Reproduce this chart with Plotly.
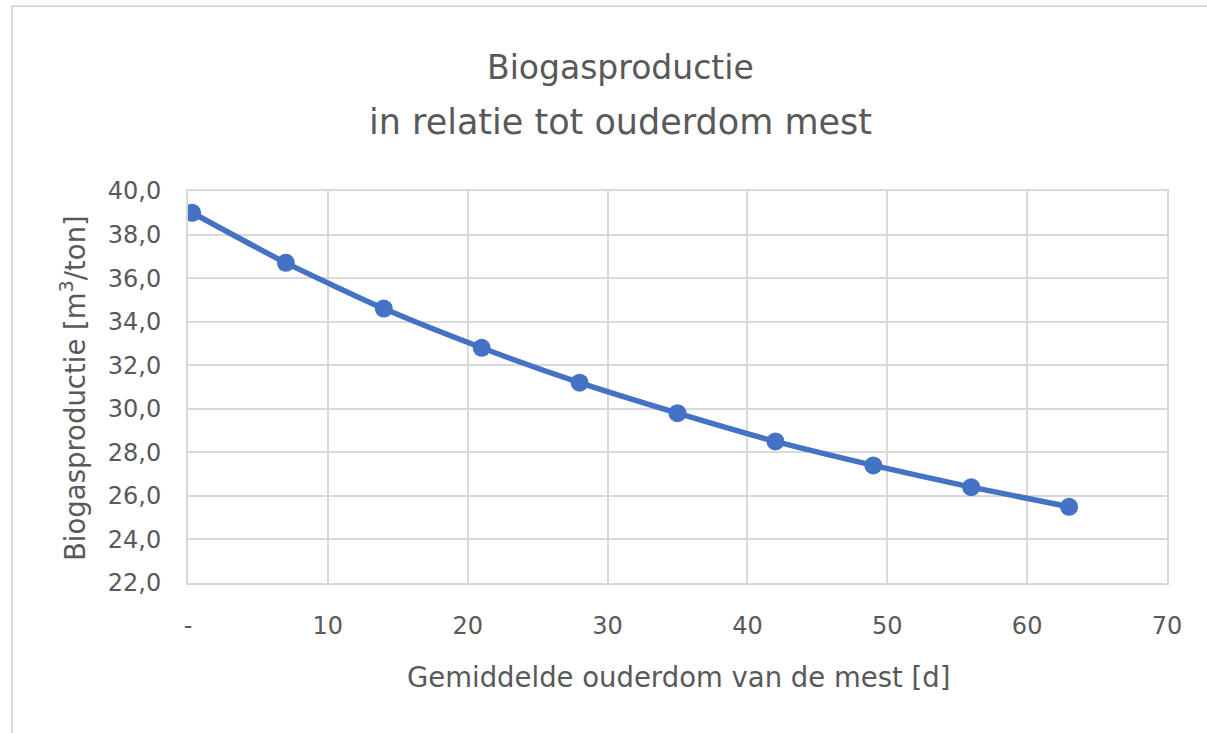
import plotly.graph_objects as go

# Data
age_days = [0.3, 7, 14, 21, 28, 35, 42, 49, 56, 63]
biogas = [39.0, 36.7, 34.6, 32.8, 31.2, 29.8, 28.5, 27.4, 26.4, 25.5]

x_tickvals = [0, 10, 20, 30, 40, 50, 60, 70]
x_ticktext = ["-", "10", "20", "30", "40", "50", "60", "70"]
y_tickvals = [22, 24, 26, 28, 30, 32, 34, 36, 38, 40]
y_ticktext = ["22,0", "24,0", "26,0", "28,0", "30,0", "32,0", "34,0", "36,0", "38,0", "40,0"]

title_line1 = "Biogasproductie"
title_line2 = "in relatie tot ouderdom mest"
x_title = "Gemiddelde ouderdom van de mest [d]"
y_title = "Biogasproductie [m<sup>3</sup>/ton]"

FONT = "DejaVu Sans"
TXT = "#595959"
GRID = "#d9d9d9"
BLUE = "#4472C4"

fig = go.Figure()
fig.add_trace(go.Scatter(
    x=age_days, y=biogas, mode="lines+markers",
    line=dict(color=BLUE, width=5.5, shape="spline", smoothing=0.6),
    marker=dict(color=BLUE, size=18),
    showlegend=False, hoverinfo="x+y",
))

L, R, T, B = 188, 40, 191, 150
W, H = 1207, 733
pw = W - L - R
ph = H - T - B

def px(xp):
    return (xp - L) / pw

def py(yp):
    return (H - B - yp) / ph

border = dict(color=GRID, width=2)
fig.update_layout(
    width=W, height=H,
    margin=dict(l=L, r=R, t=T, b=B, pad=0),
    paper_bgcolor="white", plot_bgcolor="white",
    font=dict(family=FONT, color=TXT),
    xaxis=dict(
        range=[0, 70], tickvals=x_tickvals, ticktext=x_ticktext,
        showgrid=True, gridcolor=GRID, gridwidth=2,
        showline=True, linecolor=GRID, linewidth=2, mirror=True,
        zeroline=False, ticks="outside", ticklen=20, tickcolor="rgba(0,0,0,0)",
        tickfont=dict(size=24, color=TXT, family=FONT),
    ),
    yaxis=dict(
        range=[22, 40], tickvals=y_tickvals, ticktext=y_ticktext,
        showgrid=True, gridcolor=GRID, gridwidth=2,
        showline=True, linecolor=GRID, linewidth=2, mirror=True,
        zeroline=False, ticks="outside", ticklen=20, tickcolor="rgba(0,0,0,0)",
        tickfont=dict(size=24, color=TXT, family=FONT),
    ),
    shapes=[
        dict(type="line", xref="paper", yref="paper",
             x0=px(12), x1=px(12), y0=py(733), y1=py(6), line=border, layer="below"),
        dict(type="line", xref="paper", yref="paper",
             x0=px(12), x1=px(1207), y0=py(6), y1=py(6), line=border, layer="below"),
    ],
    annotations=[
        dict(text=title_line1, xref="paper", yref="paper", x=px(620), y=py(67),
             xanchor="center", yanchor="middle", showarrow=False,
             font=dict(size=33, color=TXT, family=FONT)),
        dict(text=title_line2, xref="paper", yref="paper", x=px(620), y=py(122),
             xanchor="center", yanchor="middle", showarrow=False,
             font=dict(size=35, color=TXT, family=FONT)),
        dict(text=x_title, xref="paper", yref="paper", x=px(678), y=py(677),
             xanchor="center", yanchor="middle", showarrow=False,
             font=dict(size=27.5, color=TXT, family=FONT)),
        dict(text=y_title, xref="paper", yref="paper", x=px(73), y=py(388),
             xanchor="center", yanchor="middle", showarrow=False, textangle=-90,
             font=dict(size=27.5, color=TXT, family=FONT)),
    ],
)

fig.write_html("out.html", config={"displayModeBar": False},
               post_script="document.body.style.margin='0';")
